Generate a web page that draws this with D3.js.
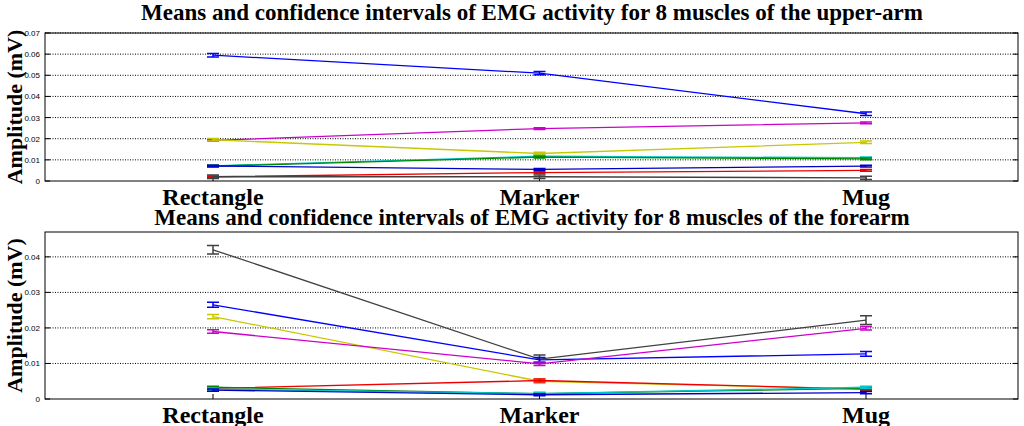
<!DOCTYPE html>
<html>
<head>
<script src="https://d3js.org/d3.v7.min.js"></script>
<style>body{margin:0;background:#fff}</style>
</head>
<body>
<script>
var categories = ['Rectangle', 'Marker', 'Mug'];
var colors = ['#0000ff', '#cc00cc', '#c8c800', '#00c8c8', '#008800', '#0000cc', '#ee0000', '#404040'];
// upper-arm means (Rectangle, Marker, Mug)
var upperMeans = [
  [0.0595, 0.0510, 0.0318],
  [0.0192, 0.0248, 0.0275],
  [0.0195, 0.0130, 0.0183],
  [0.0072, 0.0117, 0.0110],
  [0.0070, 0.0113, 0.0105],
  [0.0071, 0.0055, 0.0070],
  [0.0020, 0.0040, 0.0050],
  [0.0020, 0.0020, 0.0015]
];
var upperErr = [0.0008, 0.0004, 0.0006, 0.0004, 0.0004, 0.0004, 0.0004, 0.0008];
var upperTicks = [0, 0.01, 0.02, 0.03, 0.04, 0.05, 0.06, 0.07];
var foreColors = ['#404040', '#0000ff', '#c8c800', '#cc00cc', '#ee0000', '#008800', '#00c8c8', '#0000cc'];
var foreMeans = [
  [0.0420, 0.0112, 0.0222],
  [0.0265, 0.0110, 0.0127],
  [0.0232, 0.0050, 0.0028],
  [0.0190, 0.0099, 0.0199],
  [0.0030, 0.0052, 0.0028],
  [0.0033, 0.0015, 0.0030],
  [0.0028, 0.0015, 0.0033],
  [0.0025, 0.0012, 0.0018]
];
var foreErr = [0.0012, 0.0007, 0.0006, 0.0005, 0.0004, 0.0003, 0.0003, 0.0003];
var foreTicks = [0, 0.01, 0.02, 0.03, 0.04];

var svg = d3.select('body').append('svg').attr('width', 1024).attr('height', 426);

function panel(title, top, bottom, ymax, ticks, means, errs, cols, titleY) {
  var x = d3.scalePoint().domain(categories).range([213, 866]);
  var y = d3.scaleLinear().domain([0, ymax]).range([bottom, top]);
  var g = svg.append('g');
  g.append('text').text(title).attr('x', 532).attr('y', titleY).attr('text-anchor', 'middle')
    .attr('font-family', 'Liberation Serif').attr('font-weight', 'bold').attr('font-size', 23);
  ticks.forEach(function (t) {
    if (t > 0) g.append('line').attr('x1', 45).attr('x2', 1018).attr('y1', y(t)).attr('y2', y(t))
      .attr('stroke', '#000').attr('stroke-width', 1).attr('stroke-dasharray', '1,1.5');
    g.append('text').text(t).attr('x', 40).attr('y', y(t) + 3).attr('text-anchor', 'end')
      .attr('font-family', 'Liberation Sans').attr('font-size', 8);
    g.append('line').attr('x1', 45).attr('x2', 50).attr('y1', y(t)).attr('y2', y(t)).attr('stroke', '#000');
    g.append('line').attr('x1', 1013).attr('x2', 1018).attr('y1', y(t)).attr('y2', y(t)).attr('stroke', '#000');
  });
  g.append('rect').attr('x', 45).attr('y', top).attr('width', 973).attr('height', bottom - top)
    .attr('fill', 'none').attr('stroke', '#000');
  categories.forEach(function (c) {
    g.append('line').attr('x1', x(c)).attr('x2', x(c)).attr('y1', bottom).attr('y2', bottom - 5).attr('stroke', '#000');
    g.append('text').text(c).attr('x', x(c)).attr('y', bottom + 24).attr('text-anchor', 'middle')
      .attr('font-family', 'Liberation Serif').attr('font-weight', 'bold').attr('font-size', 24);
  });
  g.append('text').text('Amplitude (mV)').attr('transform', 'translate(22,' + (top + bottom) / 2 + ') rotate(-90)')
    .attr('text-anchor', 'middle').attr('font-family', 'Liberation Serif').attr('font-weight', 'bold').attr('font-size', 22);
  var line = d3.line().x(function (d, i) { return x(categories[i]); }).y(function (d) { return y(d); });
  means.forEach(function (m, k) {
    g.append('path').attr('d', line(m)).attr('fill', 'none').attr('stroke', cols[k]).attr('stroke-width', 1.3);
    m.forEach(function (v, i) {
      var cx = x(categories[i]), e = errs[k];
      g.append('path').attr('d', 'M' + cx + ',' + y(v - e) + 'V' + y(v + e)
        + 'M' + (cx - 6) + ',' + y(v - e) + 'H' + (cx + 6) + 'M' + (cx - 6) + ',' + y(v + e) + 'H' + (cx + 6))
        .attr('stroke', cols[k]).attr('stroke-width', 1.5).attr('fill', 'none');
    });
  });
}

panel('Means and confidence intervals of EMG activity for 8 muscles of the upper-arm', 33, 181, 0.07, upperTicks, upperMeans, upperErr, colors, 20);
panel('Means and confidence intervals of EMG activity for 8 muscles of the forearm', 232, 399, 0.047, foreTicks, foreMeans, foreErr, foreColors, 225);
</script>
</body>
</html>
